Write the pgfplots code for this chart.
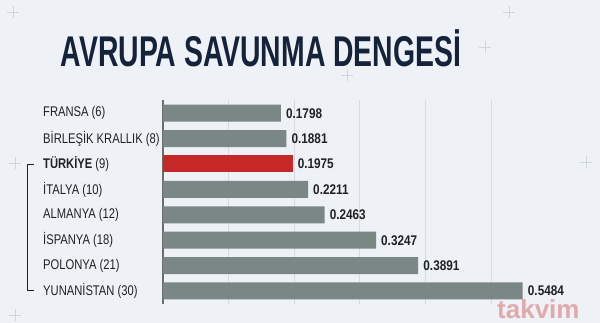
\documentclass[border=0pt]{standalone}
\usepackage{pgfplots}
\pgfplotsset{compat=1.18}
\usepackage{fontspec}
\setmainfont{Liberation Sans}
\newfontfamily\titlefont[FakeStretch=0.66]{Liberation Sans}
\newfontfamily\cond[FakeStretch=0.8]{Liberation Sans}
\newfontfamily\valfont[FakeStretch=0.84]{Liberation Sans}
\definecolor{bg}{HTML}{EEF1F5}
\definecolor{bargray}{HTML}{7B8785}
\definecolor{barred}{HTML}{C62828}
\definecolor{titlecol}{HTML}{15233A}
\definecolor{txt}{HTML}{1E2226}
\definecolor{gridc}{HTML}{D6DAE0}
\definecolor{plusc}{HTML}{D0D5DC}
\begin{document}
\begin{tikzpicture}[x=1pt,y=1pt]
\fill[bg] (0,0) rectangle (600,323);
% decorative plus marks
\foreach \px/\py in {13/311,509/311,485/276,347/248,15/160,15/8,586/161}{
  \draw[plusc,line width=0.6pt] (\px-6,\py) -- (\px+6,\py) (\px,\py-6) -- (\px,\py+6);
}
\node[font=\titlefont\bfseries\fontsize{43}{43}\selectfont, text=titlecol, inner sep=0pt] at (261,275) {AVRUPA SAVUNMA DENGESİ};
\begin{axis}[
  at={(163pt,19.3pt)}, anchor=south west,
  scale only axis, width=393.6pt, height=203.2pt,
  xmin=0, xmax=0.6, ymin=-0.5, ymax=7.5, y dir=reverse,
  axis line style={draw=none},
  xtick={0.1,0.2,0.3,0.4,0.5}, xticklabels={},
  xmajorgrids, grid style={gridc, line width=0.8pt},
  extra x ticks={0}, extra x tick labels={},
  extra x tick style={grid style={color=gray!85!black, line width=1.2pt}},
  major tick length=0pt,
  ytick={0,...,7},
  yticklabels={FRANSA (6), BİRLEŞİK KRALLIK (8), \textbf{TÜRKİYE} (9), İTALYA (10), ALMANYA (12), İSPANYA (18), POLONYA (21), YUNANİSTAN (30)},
  yticklabel style={anchor=west, xshift=-120pt, inner sep=0pt, text=txt, font=\cond\fontsize{14}{14}\selectfont},
  xbar, bar width=17pt, bar shift=0pt,
  clip=false,
  point meta=explicit symbolic,
  nodes near coords,
  nodes near coords style={anchor=west, inner sep=0pt, xshift=5pt, text=txt, font=\valfont\bfseries\fontsize{14}{14}\selectfont},
]
\addplot[fill=bargray, draw=none] coordinates {
  (0.1798,0) [0.1798]
  (0.1881,1) [0.1881]
  (0.2211,3) [0.2211]
  (0.2463,4) [0.2463]
  (0.3247,5) [0.3247]
  (0.3891,6) [0.3891]
  (0.5484,7) [0.5484]
};
\addplot[fill=barred, draw=none] coordinates {
  (0.1975,2) [0.1975]
};
\end{axis}
% bracket
\draw[txt, line width=0.9pt] (34,159) -- (27.5,159) -- (27.5,33) -- (34,33);
% watermark
\node[anchor=south west, inner sep=0pt, text=barred, opacity=0.35, font=\bfseries\fontsize{26}{26}\selectfont] at (497,4) {takvim};
\end{tikzpicture}
\end{document}
